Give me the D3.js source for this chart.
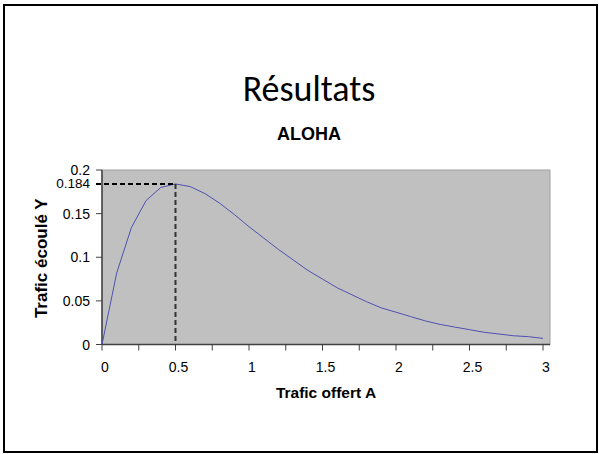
<!DOCTYPE html>
<html lang="fr">
<head>
<meta charset="UTF-8">
<title>Résultats - ALOHA</title>
<script src="https://d3js.org/d3.v7.min.js"></script>
<style>
    html, body { margin: 0; padding: 0; background: #fff; }
    svg { display: block; }
    text { font-family: "Liberation Sans", Arial, sans-serif; fill: #000; }
    .slide-title { font-family: Carlito, Calibri, Lato, sans-serif; }
    .bold { font-weight: bold; }
</style>
</head>
<body>
<svg id="chart"></svg>
<script>
    // values
    const trafficOffered = [0, 0.1, 0.2, 0.3, 0.4, 0.5, 0.6, 0.7, 0.8, 0.9, 1.0,
        1.1, 1.2, 1.3, 1.4, 1.5, 1.6, 1.7, 1.8, 1.9, 2.0,
        2.1, 2.2, 2.3, 2.4, 2.5, 2.6, 2.7, 2.8, 2.9, 3.0];
    const trafficCarried = [0, 0.082, 0.134, 0.165, 0.180, 0.184, 0.181, 0.173, 0.162, 0.149, 0.135,
        0.122, 0.109, 0.097, 0.085, 0.075, 0.065, 0.057, 0.049, 0.042, 0.037,
        0.032, 0.027, 0.023, 0.020, 0.017, 0.014, 0.012, 0.010, 0.009, 0.007];
    const xTickLabels = [0, 0.5, 1, 1.5, 2, 2.5, 3];
    const xMinorTicks = [0, 0.25, 0.5, 0.75, 1, 1.25, 1.5, 1.75, 2, 2.25, 2.5, 2.75, 3];
    const yTickLabels = [0, 0.05, 0.1, 0.15, 0.2];
    const peak = { a: 0.5, y: 0.184 };

    const width = 599, height = 454;
    const svg = d3.select("#chart").attr("width", width).attr("height", height);

    // slide border
    svg.append("rect")
        .attr("x", 4).attr("y", 5)
        .attr("width", 593).attr("height", 447)
        .attr("fill", "none").attr("stroke", "#000").attr("stroke-width", 2);

    svg.append("text")
        .attr("class", "slide-title")
        .attr("x", 309).attr("y", 101)
        .attr("text-anchor", "middle")
        .attr("font-size", 36)
        .text("Résultats");

    svg.append("text")
        .attr("class", "bold")
        .attr("x", 309).attr("y", 140)
        .attr("text-anchor", "middle")
        .attr("font-size", 18)
        .text("ALOHA");

    const x = d3.scaleLinear().domain([0, 3]).range([102, 543]);
    const y = d3.scaleLinear().domain([0, 0.2]).range([344.5, 170]);
    const plotRight = 550;

    // gray plot area
    svg.append("rect")
        .attr("x", x(0)).attr("y", y(0.2))
        .attr("width", plotRight - x(0)).attr("height", y(0) - y(0.2))
        .attr("fill", "#c0c0c0")
        .attr("stroke", "#a0a0a0").attr("stroke-width", 1);

    // x axis
    const xAxis = svg.append("g").attr("transform", `translate(0,${y(0)})`);
    xAxis.append("line")
        .attr("x1", x(0)).attr("x2", plotRight)
        .attr("stroke", "#404040").attr("stroke-width", 1.5);
    xAxis.selectAll("line.tick")
        .data(xMinorTicks)
        .enter().append("line")
        .attr("class", "tick")
        .attr("x1", d => x(d)).attr("x2", d => x(d))
        .attr("y1", 0).attr("y2", 6)
        .attr("stroke", "#404040").attr("stroke-width", 1);
    xAxis.selectAll("text")
        .data(xTickLabels)
        .enter().append("text")
        .attr("x", d => x(d) + 3)
        .attr("y", 27)
        .attr("text-anchor", "middle")
        .attr("font-size", 14)
        .text(d => d);

    // y axis
    const yAxis = svg.append("g").attr("transform", `translate(${x(0)},0)`);
    yAxis.append("line")
        .attr("y1", y(0)).attr("y2", y(0.2))
        .attr("stroke", "#404040").attr("stroke-width", 1.5);
    yAxis.selectAll("line.tick")
        .data(yTickLabels)
        .enter().append("line")
        .attr("class", "tick")
        .attr("x1", -6).attr("x2", 0)
        .attr("y1", d => y(d)).attr("y2", d => y(d))
        .attr("stroke", "#404040").attr("stroke-width", 1);
    yAxis.selectAll("text")
        .data(yTickLabels)
        .enter().append("text")
        .attr("x", -12)
        .attr("y", d => y(d) + 5)
        .attr("text-anchor", "end")
        .attr("font-size", 14)
        .text(d => d);

    yAxis.append("text")
        .attr("x", -12)
        .attr("y", y(peak.y) + 4.5)
        .attr("text-anchor", "end")
        .attr("font-size", 13.5)
        .text(peak.y);

    svg.append("text")
        .attr("class", "bold")
        .attr("x", 326).attr("y", 398)
        .attr("text-anchor", "middle")
        .attr("font-size", 15.5)
        .text("Trafic offert A");

    svg.append("text")
        .attr("class", "bold")
        .attr("transform", `translate(47,${(y(0) + y(0.2)) / 2 + 1}) rotate(-90)`)
        .attr("text-anchor", "middle")
        .attr("font-size", 17)
        .text("Trafic écoulé Y");

    // curve
    const points = trafficOffered.map((a, i) => [a, trafficCarried[i]]);
    svg.append("path")
        .datum(points)
        .attr("fill", "none")
        .attr("stroke", "#5050b0")
        .attr("stroke-width", 1)
        .attr("d", d3.line().x(d => x(d[0])).y(d => y(d[1])));

    // peak markers
    svg.append("line")
        .attr("x1", x(0) - 6).attr("x2", x(peak.a))
        .attr("y1", y(peak.y)).attr("y2", y(peak.y))
        .attr("stroke", "#000").attr("stroke-width", 2)
        .attr("stroke-dasharray", "5,3");
    svg.append("line")
        .attr("x1", x(peak.a)).attr("x2", x(peak.a))
        .attr("y1", y(peak.y)).attr("y2", y(0))
        .attr("stroke", "#333").attr("stroke-width", 2)
        .attr("stroke-dasharray", "5,3");
</script>
</body>
</html>
